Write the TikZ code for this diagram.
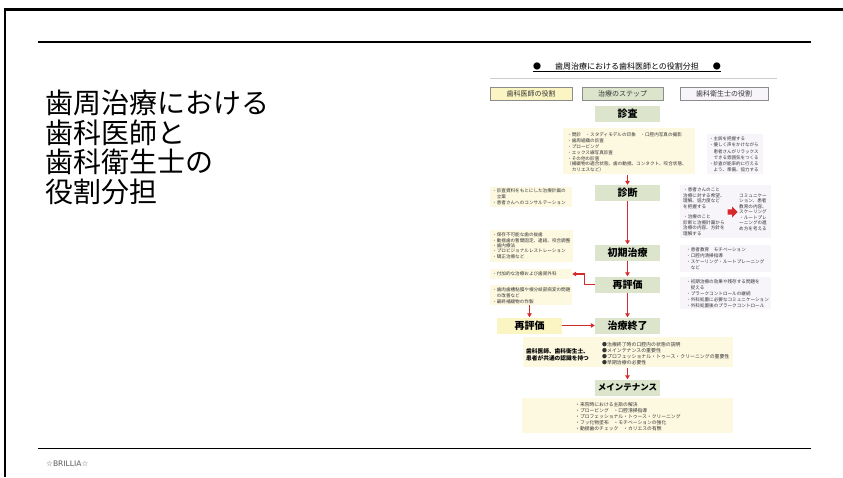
\documentclass[tikz,border=0pt]{standalone}
\usepackage{fontspec}
\setmainfont{Noto Sans CJK JP}
\newfontfamily\jp{Noto Sans CJK JP}
\newfontfamily\dv{DejaVu Sans}
\usetikzlibrary{calc,arrows.meta,fit}
\definecolor{stepfill}{HTML}{DCE4CC}
\definecolor{yel}{HTML}{FBF5C3}
\definecolor{cream}{HTML}{FDF9E1}
\definecolor{lav}{HTML}{F8F5FA}
\definecolor{arrred}{HTML}{D42A2A}
\definecolor{txtgray}{HTML}{333333}
\begin{document}
\begin{tikzpicture}[x=1pt,y=-1pt,
  stepbox/.style={fill=stepfill, minimum width=65pt, minimum height=16pt, inner sep=0pt,
    font=\jp\bfseries\fontsize{10}{10}\selectfont},
  hdrbox/.style={draw=black!45, line width=0.5pt, inner sep=0pt,
    font=\jp\fontsize{7}{7}\selectfont, text=txtgray},
  area/.style={inner sep=0pt, draw=none},
  small/.style={inner sep=0pt, anchor=north west, align=left, text=txtgray,
    font=\jp\fontsize{4.6}{5.8}\selectfont},
  arr/.style={draw=arrred, line width=1.2pt, -{Triangle[length=4pt,width=4.5pt]}},
  ttl/.style={anchor=base west, inner sep=0pt, font=\jp\fontsize{28}{28}\selectfont}
]
\useasboundingbox (0,0) rectangle (843,477);
% slide frame
\draw[line width=2.2pt] (5,477) -- (5,9.5) -- (843,9.5);
\draw[line width=1.6pt] (38,42) -- (811,42);
\draw[line width=1.6pt] (38,448.5) -- (811,448.5);
\node[anchor=west, inner sep=0pt, text=black!65, font=\dv\fontsize{7.6}{7.6}\selectfont] (brand) at (46,464) {☆BRILLIA☆};
% title
\node[ttl] (t1l) at (45,113) {歯周治療における};
\node[ttl] (t2l) at (45,143) {歯科医師と};
\node[ttl] (t3l) at (45,172.5) {歯科衛生士の};
\node[ttl] (t4l) at (45,202) {役割分担};
% diagram header
\node[inner sep=0pt, font=\jp\fontsize{8}{8}\selectfont] (hdr) at (627,66) {●\hspace{14pt}歯周治療における歯科医師との役割分担\hspace{14pt}●};
\draw[line width=0.6pt] (hdr.west |- 0,71) -- (hdr.east |- 0,71);
\draw[black!20, line width=0.8pt] (490,78) -- (777,78);
\node[hdrbox, fill=yel, fit={(490,87) (572,100)}] (h1) {};
\node[font=\jp\fontsize{7}{7}\selectfont, text=txtgray, inner sep=0pt] (h1t) at (h1.center) {歯科医師の役割};
\node[hdrbox, fill=stepfill, fit={(582,87) (663,100)}] (h2) {};
\node[font=\jp\fontsize{7}{7}\selectfont, text=txtgray, inner sep=0pt] (h2t) at (h2.center) {治療のステップ};
\node[hdrbox, fill=lav, fit={(680,87) (768,100)}] (h3) {};
\node[font=\jp\fontsize{7}{7}\selectfont, text=txtgray, inner sep=0pt] (h3t) at (h3.center) {歯科衛生士の役割};
% step boxes
\node[stepbox] (s1) at (627.5,113.5) {診査};
\node[stepbox] (s2) at (627.5,193) {診断};
\node[stepbox] (s3) at (627.5,252.5) {初期治療};
\node[stepbox] (s4) at (627.5,284.5) {再評価};
\node[stepbox] (s5) at (627.5,325.5) {治療終了};
\node[stepbox, font=\jp\bfseries\fontsize{8.5}{8.5}\selectfont] (s6) at (627.5,387.5) {メインテナンス};
\node[stepbox, fill=yel] (s7) at (529.5,325.5) {再評価};
% center text boxes
\node[area, fill=cream, fit={(563,128) (695,174)}] (c0) {};
\node[small] (c0t) at (567,132.7) {・問診　・スタディモデルの印象　・口腔内写真の撮影\\・歯周組織の診査\\・プロービング\\・エックス線写真診査\\・その他の診査\\（補綴物の適合状態、歯の動揺、コンタクト、咬合状態、\\　カリエスなど）};
\node[area, fill=cream, fit={(523,337) (733,367)}] (c1) {};
\node[small, font=\jp\bfseries\fontsize{5.7}{6.6}\selectfont, text=black] (c1a) at (526,348.5) {歯科医師、歯科衛生士、\\患者が共通の認識を持つ};
\node[small, font=\jp\fontsize{4.9}{6}\selectfont] (c1b) at (602,341.8) {●治療終了時の口腔内の状態の説明\\●メインテナンスの重要性\\●プロフェッショナル・トゥース・クリーニングの重要性\\●早期治療の必要性};
\node[area, fill=cream, fit={(522,398) (733,433)}] (c2) {};
\node[small, font=\jp\fontsize{4.8}{6}\selectfont] (c2t) at (575,402.6) {・来院時における主訴の解決\\・プロービング　・口腔清掃指導\\・プロフェッショナル・トゥース・クリーニング\\・フッ化物塗布　・モチベーションの強化\\・動揺歯のチェック　・カリエスの有無};
% dentist boxes
\node[area, fill=cream, fit={(490,187) (572,207)}] (l1) {};
\node[small] (l1t) at (492,188.7) {・診査資料をもとにした治療計画の\\　立案\\・患者さんへのコンサルテーション};
\node[area, fill=cream, fit={(490,230) (573,262)}] (l2) {};
\node[small, font=\jp\fontsize{4.6}{5.4}\selectfont] (l2t) at (492,232.7) {・保存不可能な歯の抜歯\\・動揺歯の暫間固定、連結、咬合調整\\・歯内療法\\・プロビジョナルレストレーション\\・矯正治療など};
\node[area, fill=cream, fit={(490,269) (572,279)}] (l3) {};
\node[small] (l3t) at (492,271.7) {・付加的な治療および歯周外科};
\node[area, fill=cream, fit={(490,285) (572,305)}] (l4) {};
\node[small] (l4t) at (492,287.7) {・歯肉歯槽粘膜や根分岐部病変の問題\\　の改善など\\・最終補綴物の作製};
% hygienist boxes
\node[area, fill=lav, fit={(707,134) (763,174)}] (r1) {};
\node[small, font=\jp\fontsize{4.5}{6.2}\selectfont] (r1t) at (709,136.7) {・主訴を把握する\\・優しく声をかけながら\\　患者さんがリラックス\\　できる雰囲気をつくる\\・診査が能率的に行える\\　よう、準備、協力する};
\node[area, fill=lav, fit={(680,185) (771,238)}] (r2) {};
\node[small, font=\jp\fontsize{4.6}{5.5}\selectfont] (r2a) at (683,187.7) {・患者さんのこと\\治療に対する希望、\\理解、協力度など\\を把握する\\[5pt]・治療のこと\\診断と治療計画から\\治療の内容、方針を\\理解する};
\node[small, font=\jp\fontsize{4.6}{5.5}\selectfont] (r2b) at (739,193.2) {コミュニケー\\ション、患者\\教育の内容、\\スケーリング\\・ルートプレ\\ーニングの進\\め方を考える};
\fill[arrred] (727.5,209.3) -- (732,209.3) -- (732,206.5) -- (737.5,212) -- (732,217.5) -- (732,214.7) -- (727.5,214.7) -- cycle;
\node[area, fill=lav, fit={(680,245) (771,272)}] (r3) {};
\node[small] (r3t) at (686,247.7) {・患者教育　モチベーション\\・口腔内清掃指導\\・スケーリング・ルートプレーニング\\　など};
\node[area, fill=lav, fit={(680,277) (771,309)}] (r4) {};
\node[small] (r4t) at (686,279.7) {・初期治療の効果や残存する問題を\\　捉える\\・プラークコントロールの継続\\・外科処置に必要なコミュニケーション\\・外科処置後のプラークコントロール};
% arrows
\draw[arr] (s2.north |- c0.south) ++(0,1) -- (s2.north);
\draw[arr] (s2.south) -- (s3.north);
\draw[arr] (s3.south) -- (s4.north);
\draw[arr] (s4.south) -- (s5.north);
\draw[arr] (s4.west) -- ++(-10,0) |- (l3.east);
\draw[arr] (s7.north |- l4.south) -- (s7.north);
\draw[arr] (s7.east) -- (s5.west);
\draw[arr] (s6.north |- c1.south) ++(0,1) -- (s6.north);
\end{tikzpicture}
\end{document}
